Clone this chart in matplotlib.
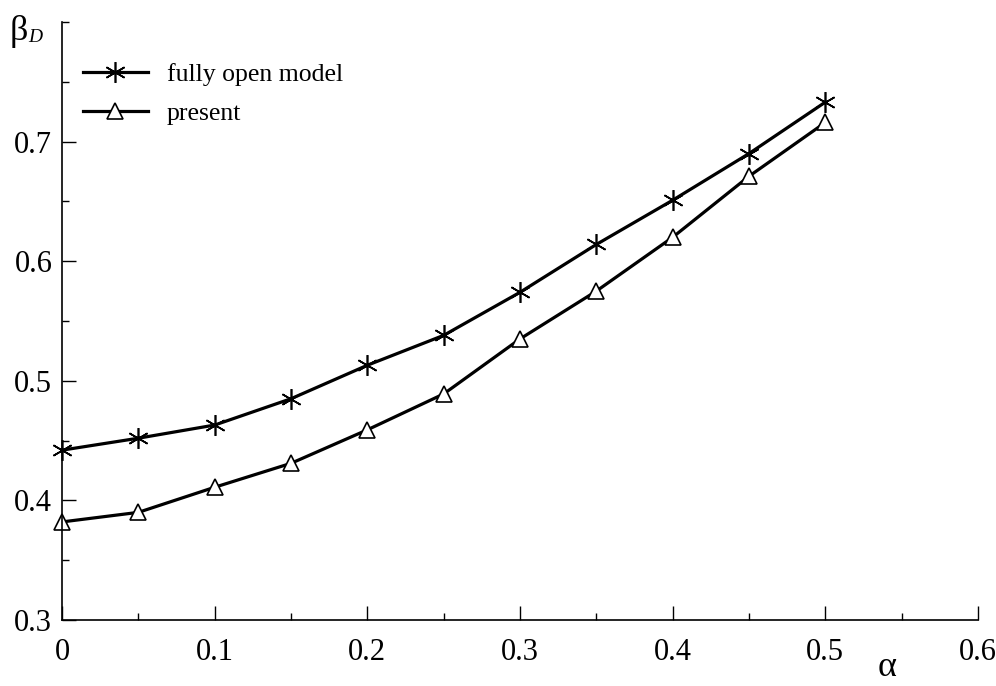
import numpy as np
import matplotlib
matplotlib.use('Agg')
from matplotlib import pyplot as plt
from matplotlib.ticker import MultipleLocator

plt.rcParams['font.family'] = ['Liberation Serif', 'DejaVu Serif']

# data
alpha = [0.0, 0.05, 0.1, 0.15, 0.2, 0.25, 0.3, 0.35, 0.4, 0.45, 0.5]
beta_open = [0.442, 0.452, 0.463, 0.485, 0.513, 0.538, 0.574, 0.614, 0.651, 0.690, 0.733]
beta_present = [0.382, 0.390, 0.411, 0.431, 0.459, 0.489, 0.535, 0.575, 0.620, 0.671, 0.716]
xticks = [0, 0.1, 0.2, 0.3, 0.4, 0.5, 0.6]
xticklabels = ['0', '0.1', '0.2', '0.3', '0.4', '0.5', '0.6']
yticks = [0.3, 0.4, 0.5, 0.6, 0.7]
yticklabels = ['0.3', '0.4', '0.5', '0.6', '0.7']

W, H = 996, 686
fig = plt.figure(figsize=(W / 100, H / 100), dpi=100)
ax = fig.add_axes([62 / W, (H - 620) / H, (978 - 62) / W, (620 - 22) / H])

star = (6, 2, 0)
ax.plot(alpha, beta_open, color='black', lw=2.3, marker=star, ms=15,
        mew=1.2, label='fully open model', clip_on=False)
ax.plot(alpha, beta_present, color='black', lw=2.3, marker='^', ms=11,
        mfc='white', mew=1.2, label='present', clip_on=False)

ax.set_xlim(0, 0.6)
ax.set_ylim(0.3, 0.8)
ax.set_xticks(xticks)
ax.set_xticklabels(xticklabels)
ax.set_yticks(yticks)
ax.set_yticklabels(yticklabels)
ax.xaxis.set_minor_locator(MultipleLocator(0.05))
ax.yaxis.set_minor_locator(MultipleLocator(0.05))
ax.tick_params(which='major', direction='in', length=10, width=1, labelsize=22)
ax.tick_params(axis='x', which='major', pad=13)
ax.tick_params(axis='y', which='major', pad=7)
ax.tick_params(which='minor', direction='in', length=5, width=1)
ax.spines['top'].set_visible(False)
ax.spines['right'].set_visible(False)
for s in ['left', 'bottom']:
    ax.spines[s].set_linewidth(1.2)

leg = ax.legend(loc='upper left', bbox_to_anchor=(0.012, 0.948), frameon=False,
                fontsize=18.5, handlelength=2.5, handletextpad=0.75, labelspacing=0.6,
                borderaxespad=0)

fig.text(10 / W, 1 - 31 / H, 'β', fontsize=26, va='center', ha='left')
fig.text(28 / W, 1 - 37 / H, 'D', fontsize=14, style='italic', va='center', ha='left')
fig.text(887 / W, 1 - 668 / H, 'α', fontsize=26, va='center', ha='center')

fig.savefig('out.png', dpi=100)
